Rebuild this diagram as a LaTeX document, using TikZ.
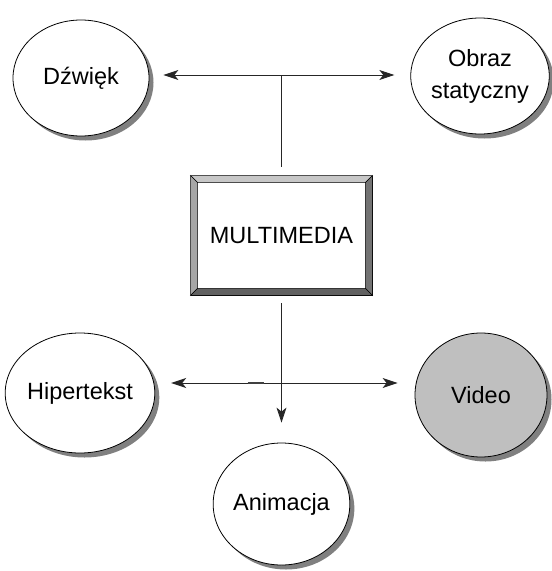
\documentclass[tikz,border=0pt]{standalone}
\usepackage{fontspec}
\setmainfont{Liberation Sans}
\usetikzlibrary{shapes.geometric,shadows,arrows.meta}
\begin{document}
\begin{tikzpicture}[x=1pt,y=-1pt,
  bubble/.style={ellipse, draw=black, line width=0.8pt, fill=white, inner sep=0pt, align=center,
    font=\fontsize{23.5}{32}\selectfont,
    drop shadow={shadow xshift=4.5pt, shadow yshift=-4.5pt, fill=black!50, opacity=1}},
  conn/.style={draw=black!85, line width=0.9pt},
  arr/.style={conn, -{Stealth[length=15pt,width=10pt,inset=4pt]}},
  bevel/.style={draw=black, line width=0.6pt}
]
\useasboundingbox (0,0) rectangle (552,571);

% box
\node[draw=black, line width=0.8pt, fill=white, minimum width=181pt, minimum height=119pt, inner sep=0pt,
  font=\fontsize{23.5}{32}\selectfont] (mm) at (281.5,235.5) {MULTIMEDIA};
\fill[black!22, bevel] (mm.north west) -- (mm.north east) -- ([shift={(-7,7)}]mm.north east) -- ([shift={(7,7)}]mm.north west) -- cycle;
\fill[black!35, bevel] (mm.north west) -- ([shift={(7,7)}]mm.north west) -- ([shift={(7,-7)}]mm.south west) -- (mm.south west) -- cycle;
\fill[black!55, bevel] (mm.north east) -- (mm.south east) -- ([shift={(-7,-7)}]mm.south east) -- ([shift={(-7,7)}]mm.north east) -- cycle;
\fill[black!62, bevel] (mm.south west) -- ([shift={(7,-7)}]mm.south west) -- ([shift={(-7,-7)}]mm.south east) -- (mm.south east) -- cycle;

% bubbles
\node[bubble, minimum width=136pt, minimum height=116pt] (dz) at (81,78) {Dźwięk};
\node[bubble, minimum width=133pt, minimum height=116pt] (ob) at (480,76) {Obraz\\statyczny};
\node[bubble, minimum width=134pt, minimum height=120pt] (hi) at (80,393) {Hipertekst};
\node[bubble, minimum width=132pt, minimum height=124pt, fill=black!25] (vi) at (481,395) {Video};
\node[bubble, minimum width=132pt, minimum height=122pt] (an) at (281.5,504) {Animacja};

% junctions
\coordinate (jt) at (281.5,75);
\coordinate (jb) at (281.5,383);

% connectors
\draw[conn, shorten <=9pt] (mm.north) -- (jt);
\draw[arr, shorten >=14pt] (jt) -- (jt -| dz.east);
\draw[arr, shorten >=16pt] (jt) -- (jt -| ob.west);
\draw[arr, shorten <=8pt, shorten >=20pt] (mm.south) -- (mm.south |- an.north);
\draw[arr, shorten >=16pt] (jb) -- (jb -| hi.east);
\draw[arr, shorten >=17pt] (jb) -- (jb -| vi.west);
\draw[line width=1.6pt, black!75] ([xshift=-34pt]jb) -- ([xshift=-18pt]jb);
\end{tikzpicture}
\end{document}
